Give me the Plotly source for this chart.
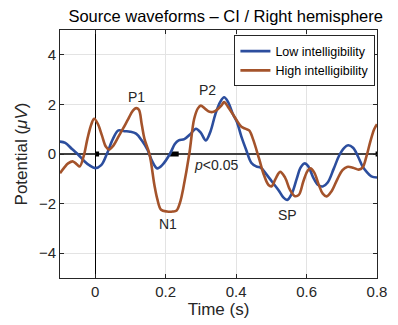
import plotly.graph_objects as go

# Time (s) and potential (µV)
t_low = [-0.1, -0.085, -0.066, -0.050, -0.030, -0.017, 0.000, 0.017, 0.033, 0.050, 0.066, 0.083,
         0.099, 0.116, 0.132, 0.149, 0.162, 0.176, 0.190, 0.212, 0.226, 0.237, 0.253, 0.270,
         0.286, 0.300, 0.314, 0.327, 0.341, 0.355, 0.366, 0.377, 0.391, 0.402, 0.415, 0.429,
         0.443, 0.457, 0.470, 0.484, 0.501, 0.520, 0.534, 0.545, 0.558, 0.572, 0.583, 0.594,
         0.605, 0.619, 0.633, 0.646, 0.660, 0.677, 0.693, 0.707, 0.718, 0.732, 0.746, 0.759,
         0.770, 0.784, 0.8]
v_low = [0.50, 0.45, 0.20, 0.00, -0.30, -0.45, -0.57, -0.45, 0.00, 0.60, 0.95, 0.92,
         0.90, 0.82, 0.55, 0.15, -0.30, -0.58, -0.45, 0.00, 0.40, 0.55, 0.60, 0.80,
         1.02, 0.85, 0.55, 0.90, 1.60, 2.10, 2.29, 2.10, 1.60, 1.30, 0.70, 0.15,
         -0.35, -0.50, -0.55, -0.78, -1.10, -1.45, -1.75, -1.85, -1.60, -1.00, -0.55, -0.38,
         -0.50, -0.95, -1.25, -1.31, -1.15, -0.60, -0.05, 0.25, 0.35, 0.25, -0.10, -0.50,
         -0.71, -0.90, -0.95]

t_high = [-0.1, -0.088, -0.077, -0.063, -0.052, -0.044, -0.033, -0.022, -0.011, -0.003, 0.008,
          0.019, 0.030, 0.039, 0.052, 0.066, 0.080, 0.094, 0.107, 0.116, 0.124, 0.132, 0.140,
          0.154, 0.168, 0.176, 0.187, 0.204, 0.220, 0.231, 0.242, 0.250, 0.267, 0.281, 0.292,
          0.300, 0.314, 0.325, 0.336, 0.347, 0.358, 0.366, 0.377, 0.391, 0.402, 0.415, 0.426,
          0.437, 0.448, 0.465, 0.479, 0.492, 0.501, 0.512, 0.525, 0.539, 0.553, 0.567, 0.578,
          0.591, 0.602, 0.611, 0.622, 0.635, 0.646, 0.657, 0.671, 0.688, 0.702, 0.715, 0.732,
          0.748, 0.759, 0.770, 0.781, 0.792, 0.8]
v_high = [-0.78, -0.55, -0.38, -0.30, -0.42, -0.50, -0.10, 0.62, 1.20, 1.42, 1.20,
          0.75, 0.30, 0.18, 0.35, 0.70, 1.05, 1.42, 1.75, 1.85, 1.78, 1.20, 0.60,
          0.00, -1.25, -1.80, -2.25, -2.32, -2.32, -2.28, -1.90, -1.38, 0.00, 1.42, 1.85,
          1.95, 1.80, 1.70, 1.70, 1.80, 1.95, 2.09, 1.90, 1.60, 1.35, 1.10, 1.02,
          0.95, 0.60, -0.18, -0.85, -1.25, -1.30, -1.00, -0.72, -0.95, -1.45, -1.70, -1.65,
          -1.10, -0.70, -0.58, -0.75, -1.25, -1.60, -1.71, -1.50, -1.00, -0.65, -0.52, -0.55,
          -0.63, -0.55, -0.10, 0.50, 1.00, 1.20]

# Significant intervals (p<0.05)
sig_start = [0.0, 0.212, 0.796]
sig_end = [0.011, 0.237, 0.8]

# Component labels
comp_labels = ["P1", "P2", "N1", "SP"]
comp_t = [0.116, 0.319, 0.206, 0.547]
comp_v = [2.3, 2.58, -2.84, -2.46]

x_ticks = [0, 0.2, 0.4, 0.6, 0.8]
x_ticklabels = ["0", "0.2", "0.4", "0.6", "0.8"]
y_ticks = [-4, -2, 0, 2, 4]

BLUE = "#2c4e9e"
BROWN = "#a4532b"
FONT = "Liberation Sans, Arial"

fig = go.Figure()

for s, e in zip(sig_start, sig_end):
    fig.add_trace(go.Scatter(x=[s, e], y=[0, 0], mode="lines",
                             line=dict(color="black", width=5),
                             showlegend=False, hoverinfo="skip"))

fig.add_trace(go.Scatter(x=t_low, y=v_low, mode="lines", name="Low intelligibility",
                         line=dict(color=BLUE, width=2.6, shape="spline", smoothing=1.0)))
fig.add_trace(go.Scatter(x=t_high, y=v_high, mode="lines", name="High intelligibility",
                         line=dict(color=BROWN, width=2.6, shape="spline", smoothing=1.0)))

for lab, tx, vy in zip(comp_labels, comp_t, comp_v):
    fig.add_annotation(x=tx, y=vy, text=lab, showarrow=False,
                       font=dict(family=FONT, size=14, color="#262626"))
fig.add_annotation(x=0.276, y=-0.44, text="<i>p</i><0.05", showarrow=False, xanchor="left",
                   font=dict(family=FONT, size=14, color="#262626"))

axis_common = dict(showline=True, linecolor="#262626", linewidth=1, mirror="ticks",
                   ticks="inside", ticklen=4, tickcolor="#262626", showgrid=True,
                   gridcolor="#e3e3e3", gridwidth=1,
                   tickfont=dict(family=FONT, size=15, color="#262626"))

fig.update_layout(
    width=398, height=325,
    margin=dict(l=60, r=11, t=30, b=43),
    plot_bgcolor="white", paper_bgcolor="white",
    title=dict(text="Source waveforms – CI / Right hemisphere", x=0.567, xanchor="center",
               y=0.95, yanchor="middle",
               font=dict(family=FONT, size=16.5, color="black")),
    xaxis=dict(range=[-0.1, 0.8], tickvals=x_ticks, ticktext=x_ticklabels,
               zeroline=True, zerolinecolor="black", zerolinewidth=1.2,
               title=dict(text="Time (s)", standoff=2,
                          font=dict(family=FONT, size=17, color="#262626")),
               **axis_common),
    yaxis=dict(range=[-5, 5], tickvals=y_ticks,
               zeroline=True, zerolinecolor="#404040", zerolinewidth=1.8,
               title=dict(text="Potential (<i>μV</i>)", standoff=6,
                          font=dict(family=FONT, size=17, color="#262626")),
               **axis_common),
    legend=dict(x=0.995, y=0.978, xanchor="right", yanchor="top",
                bgcolor="white", bordercolor="#262626", borderwidth=1,
                font=dict(family=FONT, size=12.5, color="black"),
                tracegroupgap=0, itemwidth=30),
    showlegend=True,
)

fig.write_html("out.html")
